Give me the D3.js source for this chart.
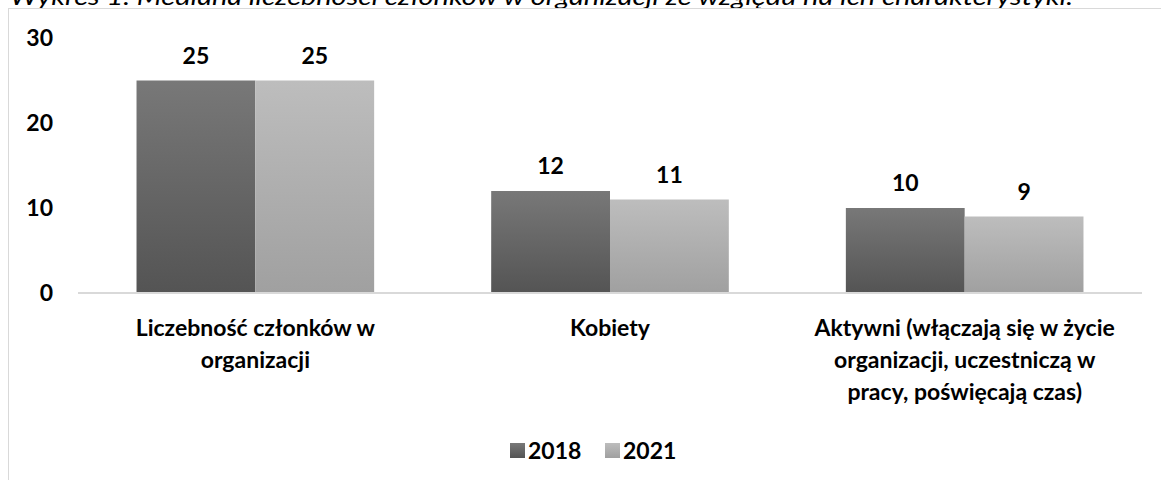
<!DOCTYPE html>
<html>
<head>
<meta charset="utf-8">
<script src="https://cdn.jsdelivr.net/npm/d3@7"></script>
<style>
  html, body { margin: 0; padding: 0; background: #fff; }
  svg { display: block; font-family: Lato, "Open Sans", sans-serif; }
</style>
</head>
<body>
<svg id="chart" width="1161" height="480"></svg>
<script>
// ---------- data ----------
const title = 'Wykres 1. Mediana liczebności członków w organizacji ze względu na ich charakterystyki.';
const categories = [
  ['Liczebność członków w', 'organizacji'],
  ['Kobiety'],
  ['Aktywni (włączają się w życie', 'organizacji, uczestniczą w', 'pracy, poświęcają czas)']
];
const seriesNames = ['2018', '2021'];
const values2018 = [25, 12, 10];
const values2021 = [25, 11, 9];
const yTicks = [0, 10, 20, 30];

const svg = d3.select('#chart');
const W = 1161;
const m = { l: 78, r: 19, t: 38, b: 187 }; // plot box: x 78..1142, y 38..293

// gradients per series (object bounding box, like the office fill)
const defs = svg.append('defs');
const grads = [['#787878', '#545454'], ['#bdbdbd', '#a0a0a0']];
grads.forEach((c, i) => {
  const g = defs.append('linearGradient').attr('id', 'g' + i).attr('x1', 0).attr('y1', 0).attr('x2', 0).attr('y2', 1);
  g.append('stop').attr('offset', '0%').attr('stop-color', c[0]);
  g.append('stop').attr('offset', '100%').attr('stop-color', c[1]);
});

// caption above the frame, cut by the top of the view as in the source
svg.append('text').attr('x', 10).attr('y', 5)
  .attr('font-style', 'italic').attr('font-size', 24).attr('fill', '#000')
  .attr('textLength', 1063).attr('lengthAdjust', 'spacingAndGlyphs')
  .text(title);

// chart frame (right / bottom edges lie outside the view)
svg.append('rect').attr('x', 8.5).attr('y', 8.5).attr('width', W + 20).attr('height', 520)
  .attr('fill', 'none').attr('stroke', '#d9d9d9').attr('stroke-width', 1);

const x0 = d3.scaleBand().domain(d3.range(categories.length))
  .range([m.l, W - m.r]).paddingInner(0.33).paddingOuter(0.165);
const x1 = d3.scaleBand().domain(seriesNames).range([0, x0.bandwidth()]);
const y = d3.scaleLinear().domain([0, 30]).range([293, m.t]);

// y tick labels
yTicks.forEach(t => {
  svg.append('text').attr('x', 53).attr('y', y(t)).attr('dy', '0.36em')
    .attr('text-anchor', 'end').attr('font-size', 23).attr('font-weight', 700).attr('fill', '#000')
    .text(t);
});

// bars + value labels
const series = [values2018, values2021];
series.forEach((vals, si) => {
  vals.forEach((v, ci) => {
    const bx = x0(ci) + x1(seriesNames[si]);
    svg.append('rect').attr('x', bx).attr('y', y(v))
      .attr('width', x1.bandwidth()).attr('height', y(0) - y(v))
      .attr('fill', `url(#g${si})`);
    svg.append('text').attr('x', bx + x1.bandwidth() / 2).attr('y', y(v) - 25).attr('dy', '0.36em')
      .attr('text-anchor', 'middle').attr('font-size', 23).attr('font-weight', 700).attr('fill', '#000')
      .text(v);
  });
});

// category axis line
svg.append('line').attr('x1', m.l).attr('x2', W - m.r).attr('y1', y(0)).attr('y2', y(0))
  .attr('stroke', '#d9d9d9').attr('stroke-width', 2);

// category labels (wrapped)
categories.forEach((lines, ci) => {
  const cx = x0(ci) + x0.bandwidth() / 2;
  const t = svg.append('text').attr('text-anchor', 'middle').attr('font-size', 23)
    .attr('font-weight', 700).attr('fill', '#000');
  lines.forEach((s, li) => {
    t.append('tspan').attr('x', cx).attr('y', 328 + li * 32).attr('dy', '0.36em').text(s);
  });
});

// legend
const legend = svg.append('g');
const legX = [510, 605];
seriesNames.forEach((s, i) => {
  legend.append('rect').attr('x', legX[i]).attr('y', 443).attr('width', 15).attr('height', 15)
    .attr('fill', `url(#g${i})`);
  legend.append('text').attr('x', legX[i] + 18).attr('y', 450.5).attr('dy', '0.36em')
    .attr('font-size', 23).attr('font-weight', 700).attr('fill', '#000').text(s);
});
</script>
</body>
</html>
